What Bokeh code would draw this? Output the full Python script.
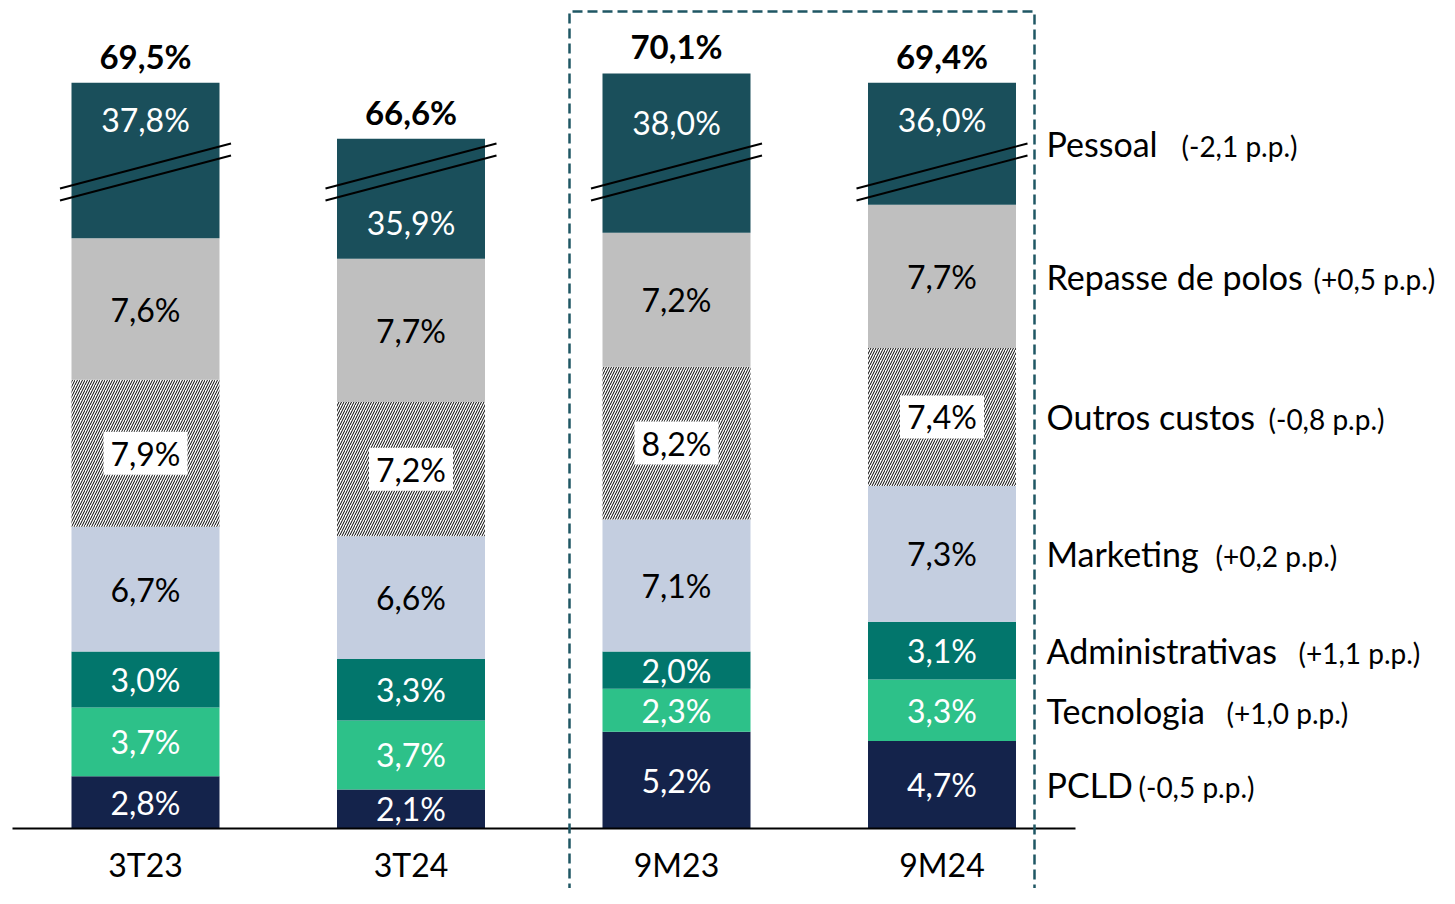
from bokeh.plotting import figure
from bokeh.models import ColumnDataSource, Range1d
from bokeh.core.properties import value
from bokeh.embed import file_html
from bokeh.resources import INLINE

# ---------------- data ----------------
periods = ["3T23", "3T24", "9M23", "9M24"]
series_names = ["PCLD", "Tecnologia", "Administrativas", "Marketing",
                "Outros custos", "Repasse de polos", "Pessoal"]
pcld = [2.8, 2.1, 5.2, 4.7]
tecnologia = [3.7, 3.7, 2.3, 3.3]
administrativas = [3.0, 3.3, 2.0, 3.1]
marketing = [6.7, 6.6, 7.1, 7.3]
outros_custos = [7.9, 7.2, 8.2, 7.4]
repasse_polos = [7.6, 7.7, 7.2, 7.7]
pessoal = [37.8, 35.9, 38.0, 36.0]
totals = [69.5, 66.6, 70.1, 69.4]
deltas = ["(-0,5 p.p.)", "(+1,0 p.p.)", "(+1,1 p.p.)", "(+0,2 p.p.)",
          "(-0,8 p.p.)", "(+0,5 p.p.)", "(-2,1 p.p.)"]

series_values = [pcld, tecnologia, administrativas, marketing,
                 outros_custos, repasse_polos, pessoal]

# ---------------- style / layout ----------------
colors = ["#14234B", "#2DC189", "#02766C", "#C4CEE0", "#FFFFFF", "#BFBFBF", "#1A4F5B"]
label_colors = ["white", "white", "white", "black", "black", "black", "white"]
AXIS_BREAK = 29.45            # part of the Pessoal bar hidden by the axis break
PX_Y = 1 / 18.62              # data units per pixel (vertical)
PX_X = 1 / 265.5              # data units per pixel (horizontal)
W, H = 1439, 888
FONT = value("Lato")
pessoal_label_drop = [37, 84, 49, 37]   # px below bar top for Pessoal labels
delta_px = [1138, 1226, 1298, 1215, 1268, 1313, 1181]  # legend delta x (px)


def fmt(v):
    return f"{v:.1f}".replace(".", ",") + "%"


def px_x(px):
    return (px - 145) * PX_X


def px_y(py):
    return (828 - py) * PX_Y


p = figure(width=W, height=H,
           x_range=Range1d(px_x(0), px_x(W)), y_range=Range1d(px_y(H), px_y(0)),
           output_backend="svg", toolbar_location=None,
           x_axis_location=None, y_axis_location=None, min_border=0)
p.grid.visible = False
p.outline_line_color = None
p.background_fill_color = "white"
p.border_fill_color = "white"

xs = list(range(len(periods)))
bottom = [0.0] * len(periods)
BAR_W = 148 * PX_X
tops_last = None
mids_by_series = []

for j, (name, vals) in enumerate(zip(series_names, series_values)):
    shown = [v - AXIS_BREAK if name == "Pessoal" else v for v in vals]
    top = [b + s for b, s in zip(bottom, shown)]
    mid = [(b + t) / 2 for b, t in zip(bottom, top)]
    mids_by_series.append(mid)
    if name == "Pessoal":
        label_y = [t - d * PX_Y for t, d in zip(top, pessoal_label_drop)]
    else:
        label_y = mid
    src = ColumnDataSource(dict(x=xs, bottom=bottom, top=top,
                                label=[fmt(v) for v in vals], ly=label_y))
    if name == "Outros custos":
        p.vbar(x="x", bottom="bottom", top="top", width=BAR_W, source=src,
               fill_color="white", line_color=None,
               hatch_pattern="/", hatch_color="black",
               hatch_scale=5, hatch_weight=1.0)
        p.rect(x="x", y="ly", width=84, height=43, width_units="screen",
               height_units="screen", source=src,
               fill_color="white", line_color=None)
    else:
        p.vbar(x="x", bottom="bottom", top="top", width=BAR_W, source=src,
               fill_color=colors[j], line_color=None)
    p.text(x="x", y="ly", text="label", source=src,
           text_align="center", text_baseline="middle",
           text_font=FONT, text_font_size="32px",
           text_color=label_colors[j])
    bottom = top
    tops_last = top

# totals above bars
p.text(x=xs, y=[t + 27 * PX_Y for t in tops_last], text=[fmt(v) for v in totals],
       text_align="center", text_baseline="middle",
       text_font=FONT, text_font_size="33px", text_font_style="bold",
       text_color="black")

# axis-break marks (two parallel lines through each Pessoal bar)
half = 85.5 * PX_X
rise = 45 * PX_Y / 2
for mid_px in (165.5, 177.5):
    y_mid = px_y(mid_px)
    p.multi_line(xs=[[x - half, x + half] for x in xs],
                 ys=[[y_mid - rise, y_mid + rise] for _ in xs],
                 line_color="black", line_width=2)

# baseline
p.line(x=[px_x(12), px_x(1075)], y=[0, 0], line_color="black", line_width=2)

# period labels
p.text(x=xs, y=[px_y(864)] * len(xs), text=periods,
       text_align="center", text_baseline="middle",
       text_font=FONT, text_font_size="32px", text_color="black")

# dashed box around the 9M columns
p.line(x=[px_x(569), px_x(569), px_x(1034), px_x(1034)],
       y=[px_y(H + 20), px_y(11), px_y(11), px_y(H + 20)],
       line_color="#1F5764", line_width=2.5, line_dash="10 5")

# legend on the right, aligned with the 9M24 segments
leg_y = [m[3] for m in mids_by_series]
p.text(x=[px_x(1046)] * len(series_names), y=leg_y, text=series_names,
       text_align="left", text_baseline="middle",
       text_font=FONT, text_font_size="34px", text_color="black")
p.text(x=[px_x(px) for px in delta_px], y=[y - 2.5 * PX_Y for y in leg_y], text=deltas,
       text_align="left", text_baseline="middle",
       text_font=FONT, text_font_size="28px", text_color="black")

open("out.html", "w").write(file_html(p, INLINE))
